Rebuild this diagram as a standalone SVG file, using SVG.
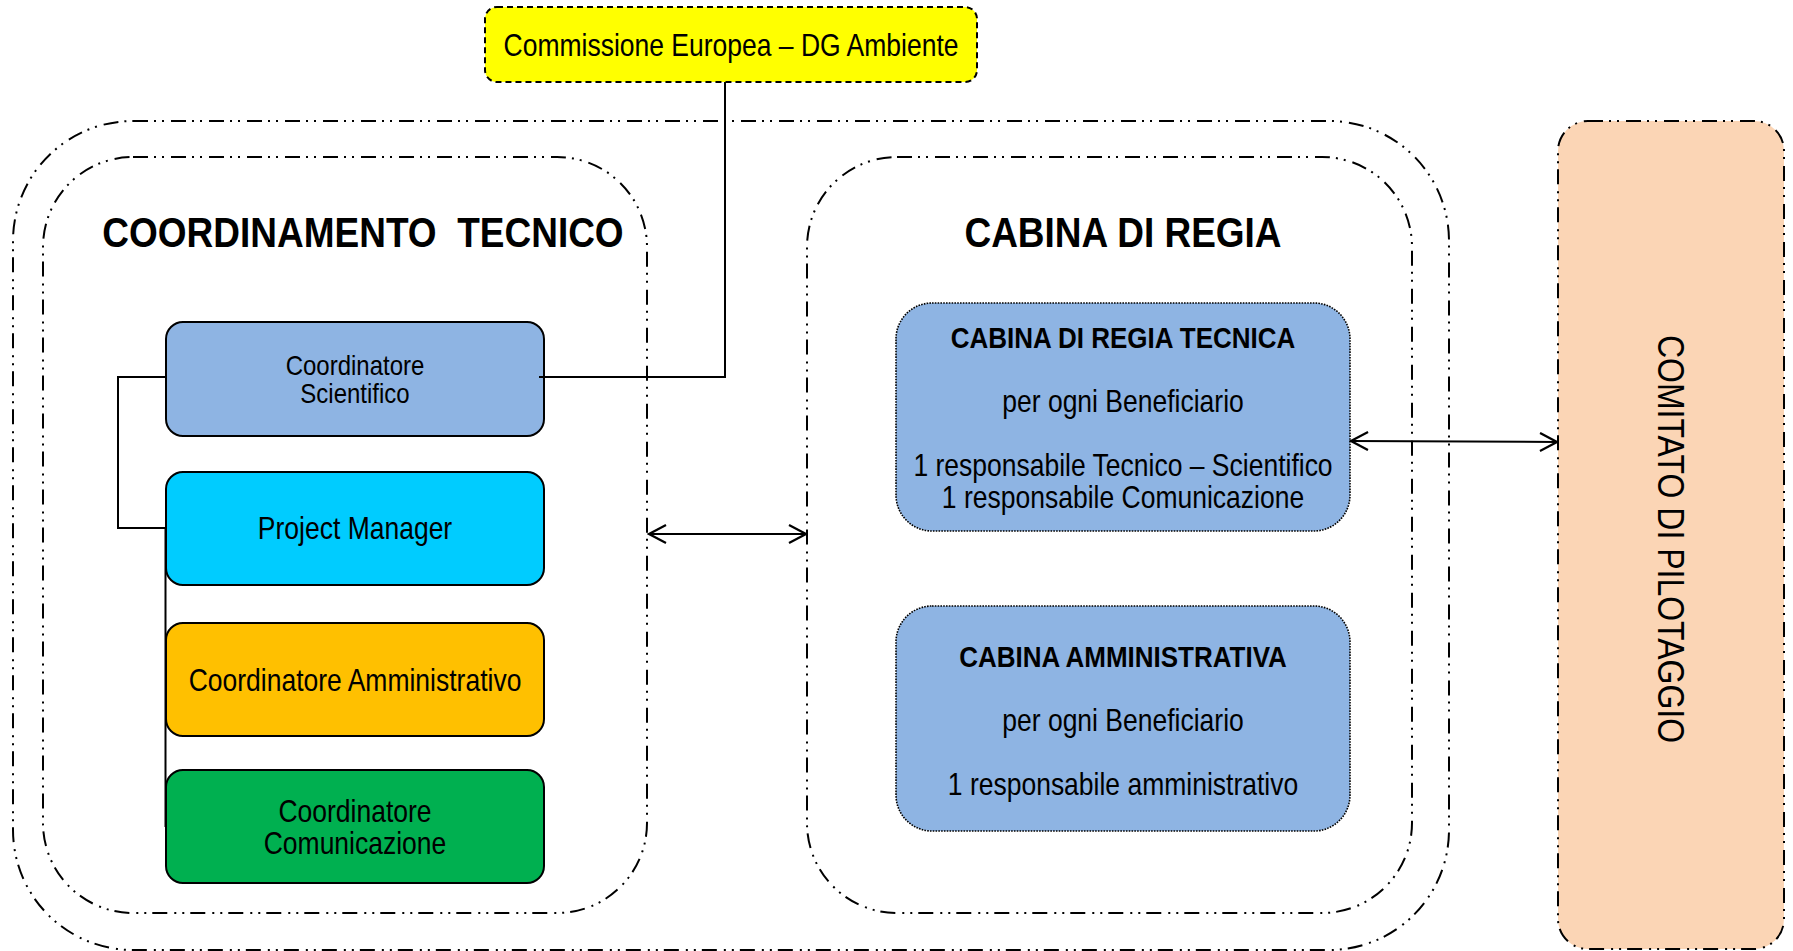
<svg xmlns="http://www.w3.org/2000/svg" width="1793" height="951" viewBox="0 0 1793 951">
<defs>
<style>
.t{font-family:"Liberation Sans",Arial,sans-serif;fill:#000;text-anchor:middle}
.b{font-weight:bold}
.ddd{fill:none;stroke:#000;stroke-width:2;stroke-dasharray:15 6 2 6 2 7}
.box{stroke:#000;stroke-width:2}
.dot{stroke:#000;stroke-width:1.6;stroke-dasharray:1.6 1.2}
.ln{fill:none;stroke:#000;stroke-width:2}
</style>
<marker id="ah" viewBox="0 0 20 20" refX="18" refY="10" markerWidth="20" markerHeight="20" markerUnits="userSpaceOnUse" orient="auto-start-reverse">
<path d="M1,1 L18,10 L1,19" fill="none" stroke="#000" stroke-width="2.2"/>
</marker>
</defs>
<rect width="1793" height="951" fill="#fff"/>

<g id="container-outer"><rect class="ddd" x="13" y="121" width="1436" height="829" rx="120" ry="120"/></g>

<g id="coordinamento-tecnico">
<rect class="ddd" x="43" y="157" width="604" height="756" rx="90" ry="90"/>
<text class="t b" font-size="37" xml:space="preserve" transform="translate(363,247) scale(1,1.15)">COORDINAMENTO  TECNICO</text>
</g>

<g id="cabina-di-regia">
<rect class="ddd" x="807" y="157" width="605" height="756" rx="90" ry="90"/>
<text class="t b" font-size="37" transform="translate(1123,247) scale(1,1.15)">CABINA DI REGIA</text>
</g>

<g id="comitato-pilotaggio">
<rect x="1558" y="121" width="226" height="828" rx="30" ry="30" fill="#FBD5B5"/>
<rect class="ddd" x="1558" y="121" width="226" height="828" rx="30" ry="30"/>
<text class="t" font-size="32" transform="translate(1658,539) rotate(90) scale(1,1.16)">COMITATO DI PILOTAGGIO</text>
</g>

<g id="commissione-europea">
<rect x="485" y="7" width="492" height="75" rx="12" ry="12" fill="#FFFF00" stroke="#000" stroke-width="2" stroke-dasharray="6 4"/>
<text class="t" font-size="26.5" transform="translate(731,56) scale(1,1.15)">Commissione Europea – DG Ambiente</text>
</g>

<g id="coordinatore-scientifico">
<rect class="box" x="166" y="322" width="378" height="114" rx="17" ry="17" fill="#8EB4E3"/>
<text class="t" font-size="24" transform="translate(355,375) scale(1,1.15)">Coordinatore</text>
<text class="t" font-size="24" transform="translate(355,403) scale(1,1.15)">Scientifico</text>
</g>

<g id="project-manager">
<rect class="box" x="166" y="472" width="378" height="113" rx="17" ry="17" fill="#00CCFF"/>
<text class="t" font-size="26.5" transform="translate(355,539) scale(1,1.15)">Project Manager</text>
</g>

<g id="coordinatore-amministrativo">
<rect class="box" x="166" y="623" width="378" height="113" rx="17" ry="17" fill="#FFC000"/>
<text class="t" font-size="26.5" transform="translate(355,691) scale(1,1.15)">Coordinatore Amministrativo</text>
</g>

<g id="coordinatore-comunicazione">
<rect class="box" x="166" y="770" width="378" height="113" rx="17" ry="17" fill="#00B050"/>
<text class="t" font-size="26.5" transform="translate(355,822) scale(1,1.15)">Coordinatore</text>
<text class="t" font-size="26.5" transform="translate(355,854) scale(1,1.15)">Comunicazione</text>
</g>

<g id="cabina-regia-tecnica">
<rect class="dot" x="896" y="303" width="454" height="228" rx="36" ry="36" fill="#8EB4E3"/>
<text class="t b" font-size="26" transform="translate(1123,348) scale(1,1.15)">CABINA DI REGIA TECNICA</text>
<text class="t" font-size="26.5" transform="translate(1123,412) scale(1,1.15)">per ogni Beneficiario</text>
<text class="t" font-size="26.5" transform="translate(1123,476) scale(1,1.15)">1 responsabile Tecnico – Scientifico</text>
<text class="t" font-size="26.5" transform="translate(1123,508) scale(1,1.15)">1 responsabile Comunicazione</text>
</g>

<g id="cabina-amministrativa">
<rect class="dot" x="896" y="606" width="454" height="225" rx="36" ry="36" fill="#8EB4E3"/>
<text class="t b" font-size="26" transform="translate(1123,667) scale(1,1.15)">CABINA AMMINISTRATIVA</text>
<text class="t" font-size="26.5" transform="translate(1123,731) scale(1,1.15)">per ogni Beneficiario</text>
<text class="t" font-size="26.5" transform="translate(1123,795) scale(1,1.15)">1 responsabile amministrativo</text>
</g>

<g id="connectors">
<polyline class="ln" points="725,82 725,377 539,377"/>
<polyline class="ln" points="166,377 118,377 118,528 166,528"/>
<line class="ln" x1="165.5" y1="528" x2="165.5" y2="827"/>
<line class="ln" x1="649" y1="534" x2="806" y2="534" marker-start="url(#ah)" marker-end="url(#ah)"/>
<line class="ln" x1="1351" y1="441" x2="1557" y2="442" marker-start="url(#ah)" marker-end="url(#ah)"/>
</g>
</svg>
